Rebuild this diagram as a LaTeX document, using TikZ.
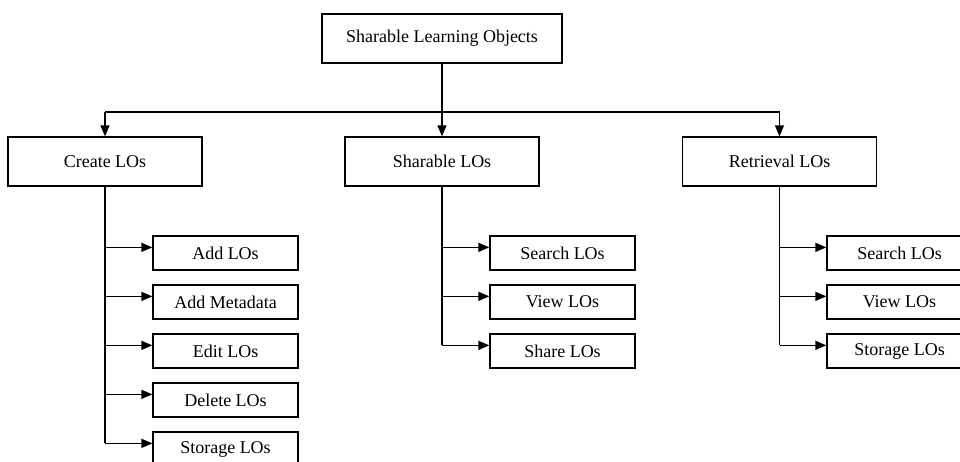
\documentclass[tikz,border=0pt]{standalone}
\usepackage{fontspec}
\setmainfont{Liberation Serif}
\usetikzlibrary{arrows.meta,calc}
\tikzset{
  box/.style={draw, line width=1.3pt, rectangle, inner sep=0pt, font=\fontsize{18}{20}\selectfont},
  rootbox/.style={box, minimum width=240pt, minimum height=49pt},
  groupbox/.style={box, minimum width=194pt, minimum height=49pt},
  leafbox/.style={box, minimum width=145pt, minimum height=34pt},
  link/.style={line width=1.3pt},
  arr/.style={link, -{Triangle[length=11pt,width=9pt]}}
}
\begin{document}
\begin{tikzpicture}[x=1pt,y=-1pt]
  \useasboundingbox (0,0) rectangle (960,461);
  \clip (0,0) rectangle (960,461);

  % root and the three groups
  \node[rootbox]  (root)   at (442,38.5)   {Sharable Learning Objects};
  \node[groupbox] (create) at (105,161.5)  {Create LOs};
  \node[groupbox] (share)  at (442,161.5)  {Sharable LOs};
  \node[groupbox] (retr)   at (779.5,161.5){Retrieval LOs};

  % leaves of Create LOs
  \node[leafbox] (c1) at (225.5,253) {Add LOs};
  \node[leafbox] (c2) at (225.5,302) {Add Metadata};
  \node[leafbox] (c3) at (225.5,351) {Edit LOs};
  \node[leafbox] (c4) at (225.5,400) {Delete LOs};
  \node[leafbox] (c5) at (225.5,449) {Storage LOs};

  % leaves of Sharable LOs
  \node[leafbox] (s1) at (562.5,253) {Search LOs};
  \node[leafbox] (s2) at (562.5,302) {View LOs};
  \node[leafbox] (s3) at (562.5,351) {Share LOs};

  % leaves of Retrieval LOs
  \node[leafbox] (r1) at (899.5,253) {Search LOs};
  \node[leafbox] (r2) at (899.5,302) {View LOs};
  \node[leafbox] (r3) at (899.5,351) {Storage LOs};

  % entry points on the left side of each leaf, a little above centre
  \foreach \l in {c1,c2,c3,c4,c5,s1,s2,s3,r1,r2,r3}
    \coordinate (\l-in) at ([yshift=-12pt]\l.north west);

  % top-level distribution bus
  \coordinate (bus) at (442,112);
  \draw[link] (root.south) -- (bus);
  \draw[link] (create.north |- bus) -- (retr.north |- bus);
  \foreach \g in {create,share,retr}
    \draw[arr] (\g.north |- bus) -- (\g.north);

  % trunks with branches to the leaves
  \draw[link] (create.south) -- (create.south |- c5-in);
  \foreach \l in {c1,c2,c3,c4,c5}
    \draw[arr] (create.south |- \l-in) -- (\l-in);

  \draw[link] (share.south) -- (share.south |- s3-in);
  \foreach \l in {s1,s2,s3}
    \draw[arr] (share.south |- \l-in) -- (\l-in);

  \draw[link] (retr.south) -- (retr.south |- r3-in);
  \foreach \l in {r1,r2,r3}
    \draw[arr] (retr.south |- \l-in) -- (\l-in);
\end{tikzpicture}
\end{document}
